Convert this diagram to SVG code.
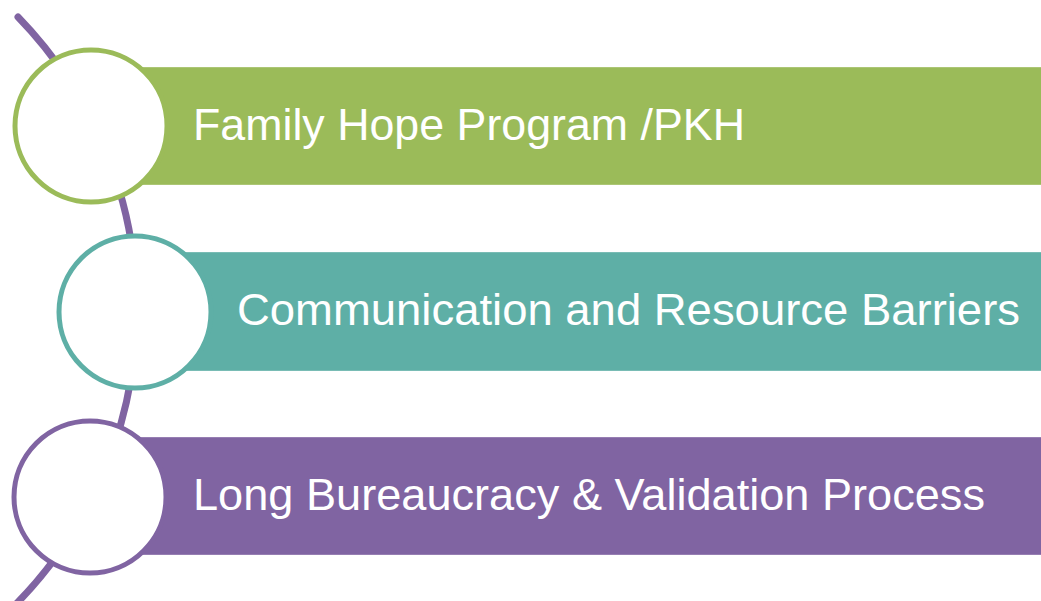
<svg xmlns="http://www.w3.org/2000/svg" width="1041" height="601" viewBox="0 0 1041 601">
  <style>
    .bar { stroke: #ffffff; stroke-opacity: 0.35; stroke-width: 1; }
    .ring { fill: #ffffff; stroke-width: 5; }
    .lbl { font-family: "Liberation Sans", Arial, sans-serif; font-size: 44px; fill: #ffffff; }
    .arc { fill: none; stroke: #8064A2; stroke-width: 7; stroke-linecap: round; }
  </style>
  <rect width="1041" height="601" fill="#ffffff"/>
  <g id="connectors">
    <path class="arc" d="M 18 17 A 420 420 0 0 1 8 612"/>
  </g>
  <g id="node1">
    <rect class="bar" x="91" y="67" width="960" height="118" fill="#9BBB59"/>
    <circle class="ring" cx="91" cy="126" r="76" stroke="#9BBB59"/>
    <text class="lbl" x="193" y="140" textLength="552" lengthAdjust="spacingAndGlyphs">Family Hope Program /PKH</text>
  </g>
  <g id="node2">
    <rect class="bar" x="135" y="252" width="916" height="119" fill="#5EAFA6"/>
    <circle class="ring" cx="135" cy="312" r="76" stroke="#5EAFA6"/>
    <text class="lbl" x="237" y="325" textLength="783" lengthAdjust="spacingAndGlyphs">Communication and Resource Barriers</text>
  </g>
  <g id="node3">
    <rect class="bar" x="90" y="437" width="961" height="118" fill="#8064A2"/>
    <circle class="ring" cx="90" cy="497" r="76" stroke="#8064A2"/>
    <text class="lbl" x="193" y="510" textLength="792" lengthAdjust="spacingAndGlyphs">Long Bureaucracy &amp; Validation Process</text>
  </g>
</svg>
